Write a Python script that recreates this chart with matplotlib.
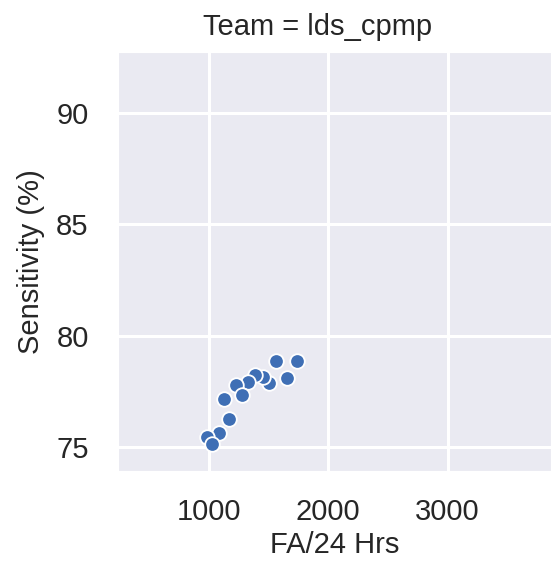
import matplotlib
matplotlib.use("Agg")
import matplotlib.pyplot as plt
import seaborn as sns

# FA/24 Hrs vs sensitivity, team lds_cpmp
fa_per_24h = [1561, 1740, 1651, 1503, 1450, 1385, 1329, 1226, 1274, 1128, 1168, 1086, 986, 1028]
sensitivity = [78.87, 78.87, 78.11, 77.88, 78.15, 78.23, 77.93, 77.78, 77.33, 77.13, 76.23, 75.63, 75.42, 75.12]
team = "lds_cpmp"

sns.set_style("darkgrid")
plt.rcParams["font.family"] = ["Liberation Sans", "DejaVu Sans"]

fs = 21
fig = plt.figure(figsize=(5.51, 5.65), dpi=100)
ax = fig.add_axes([0.214, 0.166, 0.786, 0.742])
ax.scatter(fa_per_24h, sensitivity, s=110, color="#3f6fb5", edgecolor="white", linewidth=1.3, zorder=3)

ax.set_xlim(238, 3866)
ax.set_ylim(73.9, 92.76)
ax.set_xticks([1000, 2000, 3000])
ax.set_yticks([75, 80, 85, 90])
ax.grid(color="white", linewidth=2.2)
ax.tick_params(axis="x", labelsize=fs, colors="#262626", length=0, pad=19)
ax.tick_params(axis="y", labelsize=fs, colors="#262626", length=0, pad=21)

ax.set_title("Team = %s" % team, fontsize=fs, color="#262626", pad=12, x=0.46)
ax.set_xlabel("FA/24 Hrs", fontsize=fs, color="#262626", labelpad=4)
ax.set_ylabel("Sensitivity (%)", fontsize=fs, color="#262626", labelpad=8)

fig.savefig("out.png", dpi=100)
